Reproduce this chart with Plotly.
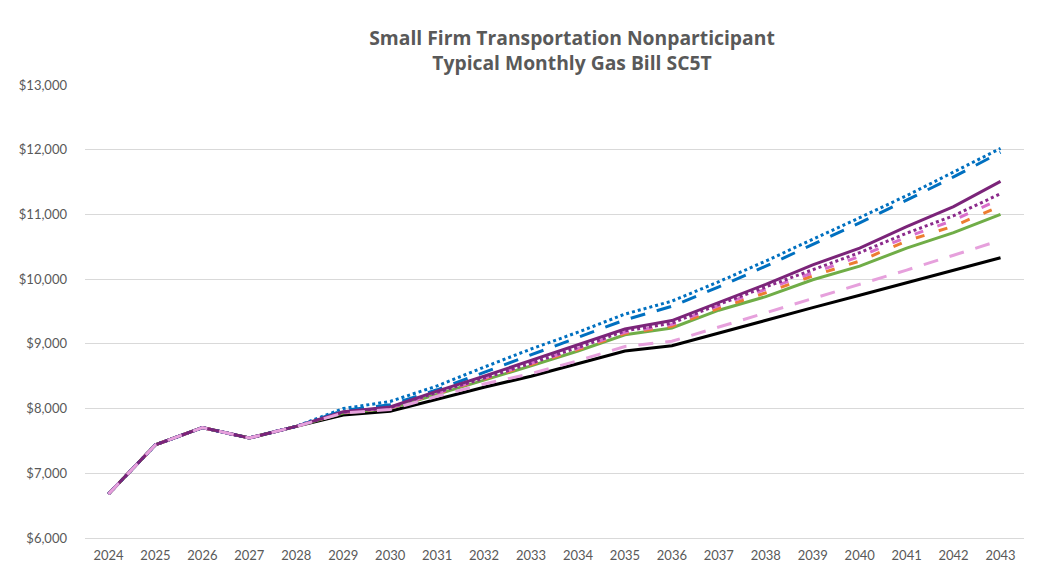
import plotly.graph_objects as go

years = [str(y) for y in range(2024, 2044)]
common = [6680, 7440, 7705, 7545, 7725]

black = common + [7900, 7960, 8150, 8330, 8500, 8700, 8890, 8970, 9170, 9370, 9560, 9750, 9940, 10130, 10330]
light_pink = common + [7930, 7985, 8190, 8380, 8540, 8740, 8960, 9040, 9260, 9480, 9700, 9910, 10140, 10370, 10600]
green = common + [7930, 8000, 8220, 8430, 8660, 8890, 9140, 9245, 9520, 9730, 9990, 10200, 10480, 10720, 11000]
orange = common + [7940, 8010, 8230, 8450, 8680, 8910, 9160, 9270, 9550, 9790, 10050, 10280, 10590, 10820, 11130]
pink = common + [7940, 8010, 8240, 8460, 8690, 8930, 9180, 9300, 9590, 9840, 10100, 10350, 10650, 10910, 11240]
purple_dotted = common + [7945, 8015, 8250, 8470, 8700, 8945, 9200, 9320, 9610, 9880, 10150, 10410, 10710, 10980, 11320]
purple_solid = common + [7950, 8025, 8270, 8500, 8740, 8980, 9230, 9360, 9640, 9920, 10220, 10480, 10810, 11120, 11510]
blue_dashed = common + [7970, 8060, 8290, 8560, 8830, 9090, 9370, 9580, 9880, 10200, 10530, 10870, 11220, 11580, 11960]
blue_dotted = common + [8000, 8110, 8350, 8640, 8920, 9180, 9460, 9660, 9960, 10280, 10610, 10950, 11290, 11650, 12020]

series = [
    ("Black", black, "#000000", "solid"),
    ("Green", green, "#70AD47", "solid"),
    ("Orange", orange, "#ED7D31", "9px,15px"),
    ("Pink", pink, "#D96FCB", "9px,15px"),
    ("Purple dotted", purple_dotted, "#8B2A8B", "dot"),
    ("Blue dashed", blue_dashed, "#0070C0", "15px,12px"),
    ("Blue dotted", blue_dotted, "#0070C0", "dot"),
    ("Purple", purple_solid, "#7B2479", "solid"),
    ("Light pink", light_pink, "#E6A0DC", "15px,12px"),
]

fig = go.Figure()
for name, vals, color, dash in series:
    fig.add_trace(go.Scatter(
        x=years, y=vals, name=name, mode="lines",
        line=dict(color=color, width=3, dash=dash),
        showlegend=False,
    ))

# page has an 8px body margin, so the figure is sized/offset to compensate
OFF = 8
W, H = 1038 - OFF, 572 - OFF
L, R, T, B = 84.5 - OFF, 13.5, 85 - OFF, 34
pw = W - L - R

fig.update_layout(
    width=W, height=H, autosize=False,
    margin=dict(l=L, r=R, t=T, b=B, pad=0, autoexpand=False),
    paper_bgcolor="white", plot_bgcolor="white",
    title=dict(
        text="Small Firm Transportation Nonparticipant<br>Typical Monthly Gas Bill SC5T",
        x=(572 - OFF - L) / pw, xref="paper", xanchor="center",
        y=1 - 37 / H, yref="container", yanchor="top",
        font=dict(family="Open Sans", size=19.3, color="#595959", weight="bold"),
    ),
    font=dict(family="Lato", color="#595959", size=13),
    xaxis=dict(
        type="category", range=[-0.5, 19.5], automargin=False,
        showgrid=False, showline=True, linecolor="#D9D9D9", linewidth=1,
        ticks="", ticklabelstandoff=5,
        tickfont=dict(size=13, color="#595959"),
    ),
    yaxis=dict(
        range=[6000, 13000], dtick=1000, tickprefix="$", tickformat=",",
        automargin=False,
        showgrid=True, gridcolor="#D9D9D9", gridwidth=1,
        zeroline=False, showline=False, ticks="", ticklabelstandoff=17,
        tickfont=dict(size=13, color="#595959"),
    ),
)

fig.write_html("out.html")
